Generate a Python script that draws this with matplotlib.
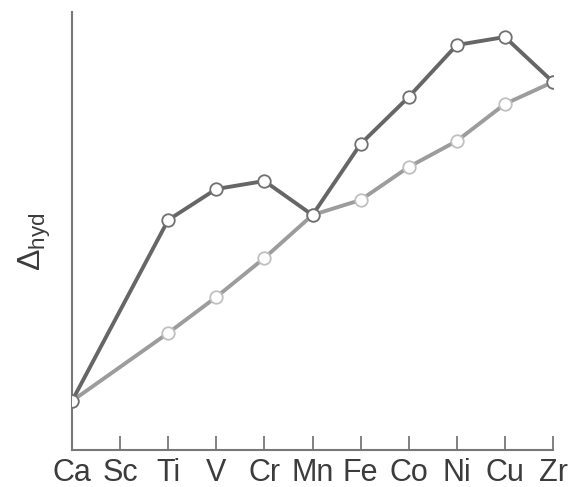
import matplotlib
matplotlib.use("Agg")
import matplotlib.pyplot as plt

plt.rcParams['font.family'] = ['Liberation Sans', 'DejaVu Sans']
plt.rcParams['mathtext.fontset'] = 'custom'
plt.rcParams['mathtext.rm'] = 'Liberation Sans'
plt.rcParams['mathtext.it'] = 'Liberation Sans'

# elements along x (Sc has no point)
elements = ['Ca', 'Sc', 'Ti', 'V', 'Cr', 'Mn', 'Fe', 'Co', 'Ni', 'Cu', 'Zr']
pt_elements = ['Ca', 'Ti', 'V', 'Cr', 'Mn', 'Fe', 'Co', 'Ni', 'Cu', 'Zr']
measured = [0.49, 2.30, 2.61, 2.69, 2.35, 3.06, 3.53, 4.05, 4.13, 3.68]
# smooth trend without ligand field stabilisation
baseline = [0.49, 1.17, 1.53, 1.92, 2.35, 2.50, 2.83, 3.09, 3.46, 3.68]

xpos = [elements.index(e) for e in pt_elements]

fig = plt.figure(figsize=(5.69, 4.87), dpi=100)
ax = fig.add_axes([72/569, 37/487, (553-72)/569, (450-12)/487])

ax.plot(xpos, baseline, color='#9c9c9c', lw=2.8, marker='o', ms=9,
        mfc='white', mec='#c0c0c0', mew=1.3, zorder=2)
ax.plot(xpos, measured, color='#666666', lw=2.8, marker='o', ms=9,
        mfc='white', mec='#707070', mew=1.3, zorder=3)

ax.set_xlim(0, 10)
ax.set_ylim(0, 4.38)
ax.set_xticks(range(len(elements)))
ax.set_xticklabels(elements, fontsize=22, color='#3c3c3c')
ax.set_yticks([])
ax.tick_params(axis='x', direction='in', length=10, width=1.3, color='#777777', pad=6)

for s in ['top', 'right']:
    ax.spines[s].set_visible(False)
for s in ['left', 'bottom']:
    ax.spines[s].set_color('#777777')
    ax.spines[s].set_linewidth(1.5)

ax.set_ylabel(r'$\Delta_{\mathrm{hyd}}$', fontsize=23, color='#3c3c3c')
ax.yaxis.set_label_coords(-0.04, 0.475)

fig.savefig('out.png', dpi=100)
